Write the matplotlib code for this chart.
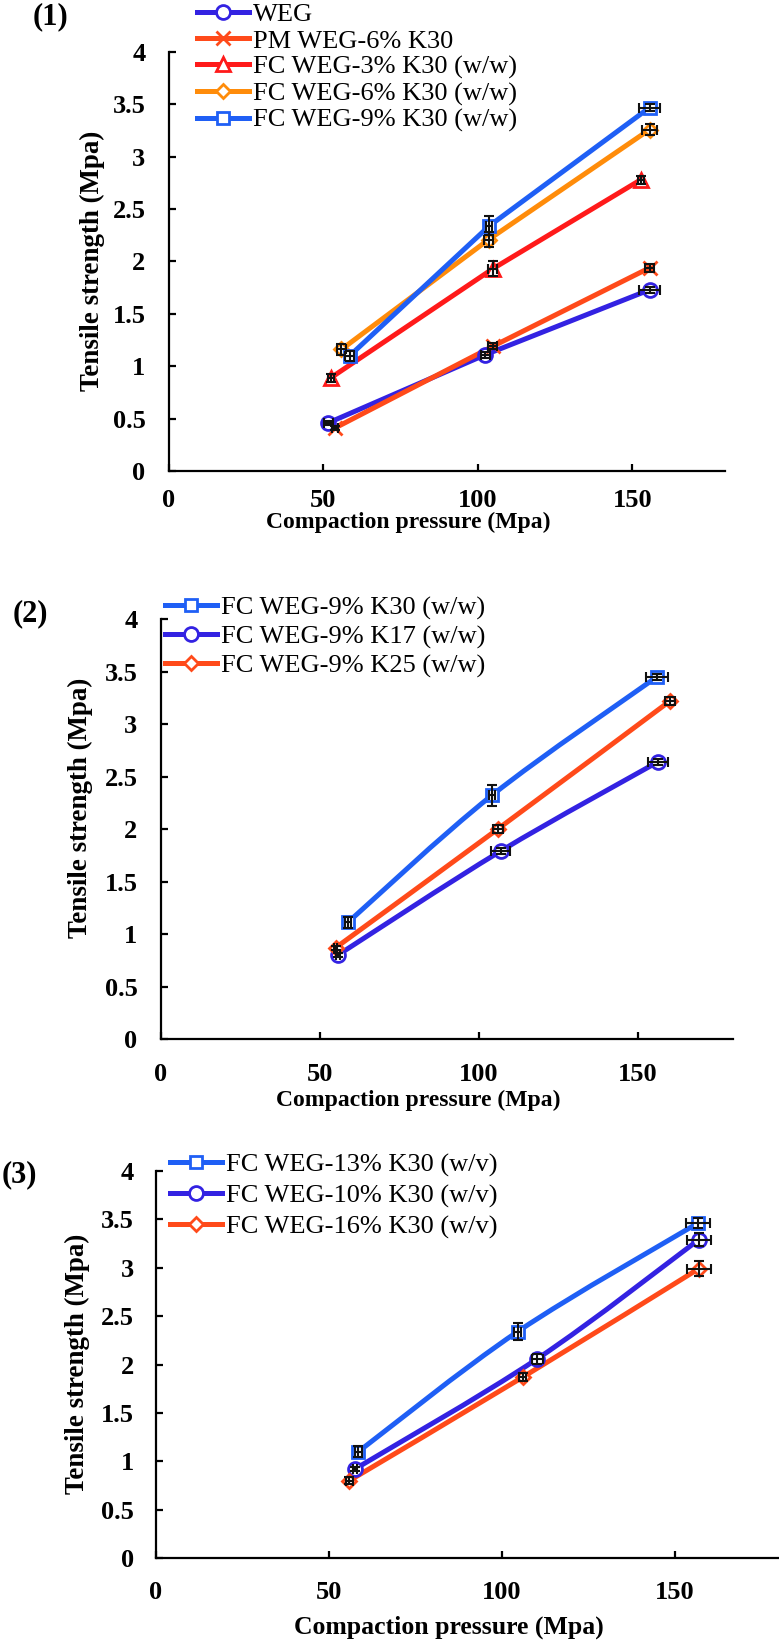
import numpy as np
import matplotlib
matplotlib.use("Agg")
import matplotlib.pyplot as plt
from matplotlib.path import Path
from matplotlib.patches import PathPatch
from matplotlib.lines import Line2D

plt.rcParams['font.family'] = ['Liberation Serif', 'DejaVu Serif']

W, H = 779, 1642

# ---------------- data ----------------
# Panel (1)
p1_labels = ["WEG", "PM WEG-6% K30", "FC WEG-3% K30 (w/w)", "FC WEG-6% K30 (w/w)", "FC WEG-9% K30 (w/w)"]
p1_x = [[51.6, 102.4, 155.6],
        [53.7, 104.8, 155.6],
        [52.4, 104.8, 152.7],
        [55.8, 103.5, 155.6],
        [58.5, 103.7, 155.6]]
p1_y = [[0.46, 1.11, 1.73],
        [0.41, 1.19, 1.94],
        [0.89, 1.93, 2.78],
        [1.16, 2.21, 3.26],
        [1.10, 2.34, 3.47]]
p1_xerr = [[1.5, 1.5, 3.5],
           [1.0, 1.5, 1.5],
           [1.0, 1.5, 1.0],
           [1.5, 1.5, 2.5],
           [1.5, 1.0, 3.5]]
p1_yerr = [[0.02, 0.03, 0.03],
           [0.02, 0.03, 0.04],
           [0.04, 0.07, 0.04],
           [0.05, 0.07, 0.05],
           [0.05, 0.09, 0.03]]

# Panel (2)
p2_labels = ["FC WEG-9% K30 (w/w)", "FC WEG-9% K17 (w/w)", "FC WEG-9% K25 (w/w)"]
p2_x = [[58.8, 104.1, 156.1],
        [55.7, 106.9, 156.4],
        [55.0, 106.0, 160.2]]
p2_y = [[1.11, 2.32, 3.45],
        [0.80, 1.79, 2.64],
        [0.87, 2.00, 3.22]]
p2_xerr = [[1.0, 1.0, 3.5],
           [0.5, 3.0, 3.0],
           [0.5, 1.5, 1.5]]
p2_yerr = [[0.05, 0.10, 0.03],
           [0.02, 0.03, 0.03],
           [0.02, 0.04, 0.04]]

# Panel (3)
p3_labels = ["FC WEG-13% K30 (w/v)", "FC WEG-10% K30 (w/v)", "FC WEG-16% K30 (w/v)"]
p3_x = [[58.5, 104.5, 156.5],
        [57.5, 110.2, 156.8],
        [55.9, 106.0, 156.8]]
p3_y = [[1.10, 2.34, 3.46],
        [0.92, 2.06, 3.29],
        [0.80, 1.87, 2.99]]
p3_xerr = [[1.0, 1.0, 3.5],
           [0.5, 1.5, 3.5],
           [1.0, 1.0, 3.5]]
p3_yerr = [[0.06, 0.09, 0.05],
           [0.02, 0.05, 0.07],
           [0.04, 0.04, 0.08]]

x_ticks = [0, 50, 100, 150]
y_ticks = [0, 0.5, 1, 1.5, 2, 2.5, 3, 3.5, 4]
y_ticklabels = ["0", "0.5", "1", "1.5", "2", "2.5", "3", "3.5", "4"]

# ---------------- styles ----------------
BLUE = '#1F5FF5'
PURPLE = '#3322E2'
ORANGERED = '#FF4A1A'
RED = '#FF1A1A'
ORANGE = '#FF8C0A'

p1_style = [(PURPLE, 'o', 10), (ORANGERED, 'x', 10), (RED, '^', 10), (ORANGE, 'D', 7.5), (BLUE, 's', 9)]
p2_style = [(BLUE, 's', 9), (PURPLE, 'o', 10), (ORANGERED, 'D', 7.5)]
p3_style = [(BLUE, 's', 9), (PURPLE, 'o', 10), (ORANGERED, 'D', 7.5)]

fig = plt.figure(figsize=(W / 100, H / 100), dpi=100)


def fx(x):
    return x / W


def fy(y):
    return 1 - y / H


def smooth_path(x, y):
    pts = np.column_stack([x, y]).astype(float)
    n = len(pts)
    verts = [pts[0]]
    codes = [Path.MOVETO]
    for i in range(n - 1):
        p0 = pts[i - 1] if i > 0 else pts[i]
        p1 = pts[i]
        p2 = pts[i + 1]
        p3 = pts[i + 2] if i + 2 < n else pts[i + 1]
        c1 = p1 + (p2 - p0) / 6.0
        c2 = p2 - (p3 - p1) / 6.0
        verts += [c1, c2, p2]
        codes += [Path.CURVE4] * 3
    return Path(verts, codes)


def panel(box, labels, xs, ys, xerrs, yerrs, styles, smooth, tag, tag_xy,
          leg_xy, leg_space, xpad, ypad, xlabel_xy, ylabel_xy, xlabel_size=17):
    left, right, top, bottom = box
    ax = fig.add_axes([fx(left), fy(bottom), (right - left) / W, (bottom - top) / H])
    handles = []
    for lab, x, y, xe, ye, (c, m, ms) in zip(labels, xs, ys, xerrs, yerrs, styles):
        if smooth:
            ax.add_patch(PathPatch(smooth_path(x, y), fill=False, edgecolor=c, lw=3.6, zorder=2,
                                   capstyle='round'))
        else:
            ax.plot(x, y, '-', color=c, lw=3.6, zorder=2, solid_capstyle='round')
        mfc = c if m == 'x' else 'white'
        ax.plot(x, y, linestyle='none', marker=m, ms=ms, mec=c, mfc=mfc, mew=2, zorder=3)
        ax.errorbar(x, y, xerr=xe, yerr=ye, fmt='none', ecolor='#111111', elinewidth=1.5,
                    capsize=3.5, capthick=1.5, zorder=4)
        handles.append(Line2D([], [], color=c, lw=3.6, marker=m, ms=ms, mec=c, mfc=mfc, mew=2))
    ax.set_xlim(0, 180)
    ax.set_ylim(0, 4)
    ax.set_xticks(x_ticks)
    ax.set_xticklabels([str(t) for t in x_ticks])
    ax.set_yticks(y_ticks)
    ax.set_yticklabels(y_ticklabels)
    for s in ['top', 'right']:
        ax.spines[s].set_visible(False)
    for s in ['left', 'bottom']:
        ax.spines[s].set_linewidth(1.6)
        ax.spines[s].set_color('black')
    ax.tick_params(axis='both', direction='in', length=5, width=1.6, labelsize=19)
    ax.tick_params(axis='y', pad=ypad)
    ax.tick_params(axis='x', pad=xpad)
    for t in ax.get_xticklabels() + ax.get_yticklabels():
        t.set_fontweight('bold')
    ax.set_xlabel("Compaction pressure (Mpa)", fontsize=xlabel_size, fontweight='bold')
    ax.xaxis.set_label_coords(fx(xlabel_xy[0]), fy(xlabel_xy[1]), transform=fig.transFigure)
    ax.xaxis.label.set_va('center')
    ax.set_ylabel("Tensile strength (Mpa)", fontsize=19.4, fontweight='bold')
    ax.yaxis.set_label_coords(fx(ylabel_xy[0]), fy(ylabel_xy[1]), transform=fig.transFigure)
    ax.yaxis.label.set_va('center')
    fig.text(fx(tag_xy[0]), fy(tag_xy[1]), tag, fontsize=22, fontweight='bold',
             ha='center', va='center')
    ax.legend(handles, labels, loc='upper left',
              bbox_to_anchor=(fx(leg_xy[0]), fy(leg_xy[1])),
              bbox_transform=fig.transFigure, frameon=False, fontsize=19,
              handlelength=1.97, handletextpad=0.15, borderpad=0, borderaxespad=0,
              labelspacing=leg_space)
    return ax


panel((169, 725, 52, 471), p1_labels, p1_x, p1_y, p1_xerr, p1_yerr, p1_style, False,
      "(1)", (50, 17), (197, 3), 0.10, 13, 17, (408, 522), (92, 261))
panel((161, 733, 619, 1039), p2_labels, p2_x, p2_y, p2_xerr, p2_yerr, p2_style, True,
      "(2)", (30, 614), (165, 596), 0.19, 17, 17, (418, 1100), (80, 808))
panel((156, 779, 1171, 1558), p3_labels, p3_x, p3_y, p3_xerr, p3_yerr, p3_style, True,
      "(3)", (19, 1175), (170, 1153), 0.27, 16.5, 16, (449, 1627), (77, 1364), 18.5)

fig.savefig("out.png", dpi=100)
